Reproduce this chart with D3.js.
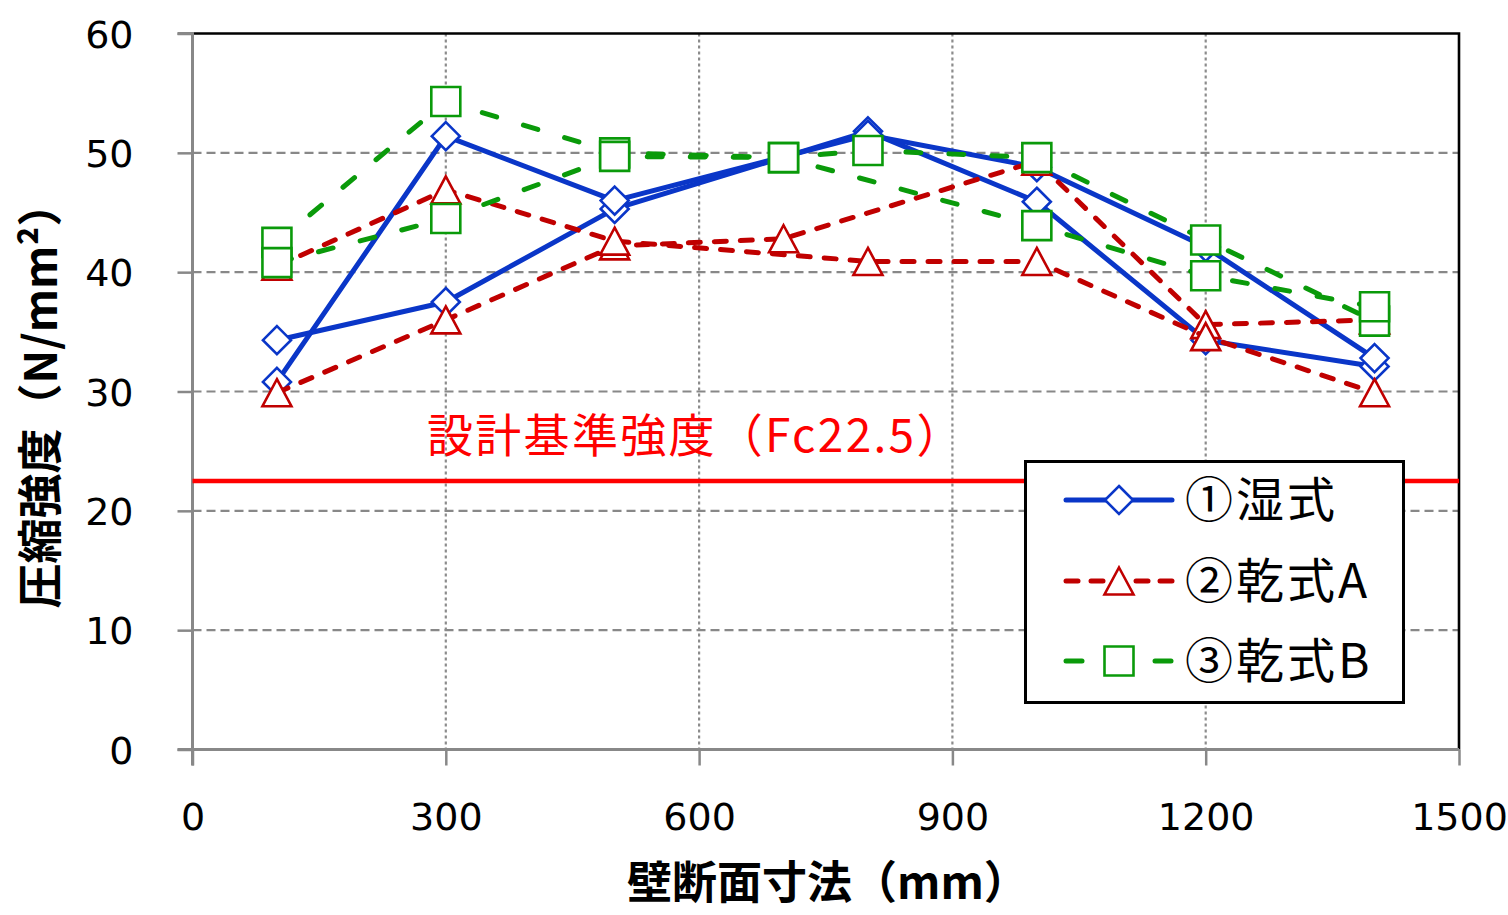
<!DOCTYPE html>
<html>
<head>
<meta charset="utf-8">
<script src="https://cdn.jsdelivr.net/npm/d3@7"></script>
<style>
  html, body { margin: 0; padding: 0; background: #fff; }
  svg { display: block; }
</style>
</head>
<body>
<svg id="chart" width="1508" height="915"></svg>
<script>
// ---------- data ----------
const xTicks = [0, 300, 600, 900, 1200, 1500];
const yTicks = [0, 10, 20, 30, 40, 50, 60];

const wetX1 = [100, 300, 500, 800, 1000, 1200, 1400];
const wetY1 = [34.3, 37.5, 45.3, 51.8, 45.9, 34.3, 32.1];
const wetX2 = [100, 300, 500, 800, 1000, 1200, 1400];
const wetY2 = [30.8, 51.4, 46.0, 51.5, 48.8, 42.1, 32.8];

const dryAX1 = [100, 300, 500, 700, 1000, 1200, 1400];
const dryAY1 = [29.9, 36.0, 42.2, 42.8, 49.3, 35.6, 36.0];
const dryAX2 = [100, 300, 500, 800, 1000, 1200, 1400];
const dryAY2 = [40.5, 46.9, 42.6, 40.9, 40.9, 34.6, 29.9];

const dryBX1 = [100, 300, 500, 700, 800, 1000, 1200, 1400];
const dryBY1 = [42.5, 54.3, 50.0, 49.6, 50.2, 49.6, 42.7, 35.9];
const dryBX2 = [100, 300, 500, 700, 1000, 1200, 1400];
const dryBY2 = [40.8, 44.5, 49.7, 49.6, 43.9, 39.7, 37.1];

const designValue = 22.5;
const designLabel = "設計基準強度（Fc22.5）";
const seriesNames = ["①湿式", "②乾式A", "③乾式B"];
const xTitle = "壁断面寸法（mm）";
const yTitle = "圧縮強度（N/mm²）";

// ---------- setup ----------
const svg = d3.select("#chart");
const L = 192.5, R = 1459, T = 33.5, B = 749.5;
const x = d3.scaleLinear().domain([0, 1500]).range([L, R]);
const y = d3.scaleLinear().domain([0, 60]).range([B, T]);
const CJK = "'Noto Sans CJK JP', 'Noto Sans', sans-serif";
const NUM = "'DejaVu Sans', sans-serif";
const gray = "#888888";

// gridlines horizontal (dashed)
svg.append("g").selectAll("line").data(yTicks.filter(d => d > 0 && d < 60)).join("line")
  .attr("x1", L).attr("x2", R).attr("y1", d => y(d)).attr("y2", d => y(d))
  .attr("stroke", gray).attr("stroke-width", 2.2).attr("stroke-dasharray", "9,5");
// gridlines vertical (dotted)
svg.append("g").selectAll("line").data(xTicks.filter(d => d > 0 && d < 1500)).join("line")
  .attr("x1", d => x(d)).attr("x2", d => x(d)).attr("y1", T).attr("y2", B)
  .attr("stroke", "#8c8c8c").attr("stroke-width", 2.2).attr("stroke-dasharray", "3,3");

// plot border (top & right black)
svg.append("path").attr("d", `M${L},${T}H${R}V${B}`).attr("fill", "none")
  .attr("stroke", "#000").attr("stroke-width", 2.6);

// axes
const yAxis = d3.axisLeft(y).tickValues(yTicks).tickSize(15).tickPadding(44).tickFormat(d3.format("d"));
const gy = svg.append("g").attr("transform", `translate(${L},0)`).call(yAxis);
const xAxis = d3.axisBottom(x).tickValues(xTicks).tickSize(16).tickPadding(38).tickFormat(d3.format("d"));
const gx = svg.append("g").attr("transform", `translate(0,${B})`).call(xAxis);
[gx, gy].forEach(g => {
  g.select(".domain").attr("stroke", gray).attr("stroke-width", 3);
  g.selectAll(".tick line").attr("stroke", gray).attr("stroke-width", 2.5);
  g.selectAll(".tick text").attr("fill", "#000").style("font-family", NUM).style("font-size", "38px");
});
gy.select(".domain").attr("d", `M-15,${T}H0V${B + 16}`);
gx.select(".domain").attr("d", `M${L - 15},0H${R}`);
gy.selectAll(".tick text").attr("dy", "0.36em");
gx.selectAll(".tick text").attr("dy", "0.71em");

// design strength line
svg.append("line").attr("x1", L).attr("x2", R).attr("y1", y(designValue)).attr("y2", y(designValue))
  .attr("stroke", "#ff0000").attr("stroke-width", 4.5);
svg.append("text").attr("x", 427).attr("y", 452).text(designLabel)
  .attr("fill", "#ff0000").style("font-family", CJK).style("font-size", "46px")
  .style("letter-spacing", "2.3px");

// ---------- series ----------
const diamond = "M0,-14L14,0L0,14L-14,0Z";
const triangle = "M0,-13.5L14.5,13.5L-14.5,13.5Z";
const square = "M-14.5,-14.5H14.5V14.5H-14.5Z";

const styles = [
  { color: "#0a36c8", dash: null, marker: diamond },
  { color: "#c00000", dash: "12,14", marker: triangle },
  { color: "#0a9a0a", dash: "15,28", marker: square }
];
const lines = [
  { xs: wetX1, ys: wetY1, s: 0 }, { xs: wetX2, ys: wetY2, s: 0 },
  { xs: dryAX1, ys: dryAY1, s: 1 }, { xs: dryAX2, ys: dryAY2, s: 1 },
  { xs: dryBX1, ys: dryBY1, s: 2 }, { xs: dryBX2, ys: dryBY2, s: 2 }
];
const lineGen = d3.line().x(d => x(d[0])).y(d => y(d[1]));

lines.forEach(ln => {
  const st = styles[ln.s];
  const pts = ln.xs.map((v, i) => [v, ln.ys[i]]);
  svg.append("path").datum(pts).attr("d", lineGen)
    .attr("fill", "none").attr("stroke", st.color).attr("stroke-width", 5)
    .attr("stroke-linecap", "round").attr("stroke-linejoin", "round")
    .attr("stroke-dasharray", st.dash);
  svg.append("g").selectAll("path").data(pts).join("path")
    .attr("d", st.marker)
    .attr("transform", d => `translate(${x(d[0])},${y(d[1])})`)
    .attr("fill", "#fff").attr("stroke", st.color).attr("stroke-width", 2.6);
});

// ---------- legend ----------
const lg = svg.append("g");
lg.append("rect").attr("x", 1025.5).attr("y", 461.5).attr("width", 378).attr("height", 241)
  .attr("fill", "#fff").attr("stroke", "#000").attr("stroke-width", 3);
const rowsY = [500, 581, 661];
seriesNames.forEach((name, i) => {
  const st = styles[i];
  const yy = rowsY[i];
  if (i === 0) {
    lg.append("line").attr("x1", 1066).attr("x2", 1172).attr("y1", yy).attr("y2", yy)
      .attr("stroke", st.color).attr("stroke-width", 5).attr("stroke-linecap", "round");
  } else if (i === 1) {
    [[1066, 1078], [1091, 1103], [1136, 1148], [1160, 1172]].forEach(seg => {
      lg.append("line").attr("x1", seg[0]).attr("x2", seg[1]).attr("y1", yy).attr("y2", yy)
        .attr("stroke", st.color).attr("stroke-width", 5).attr("stroke-linecap", "round");
    });
  } else {
    [[1066, 1082], [1155, 1171]].forEach(seg => {
      lg.append("line").attr("x1", seg[0]).attr("x2", seg[1]).attr("y1", yy).attr("y2", yy)
        .attr("stroke", st.color).attr("stroke-width", 5).attr("stroke-linecap", "round");
    });
  }
  lg.append("path").attr("d", st.marker).attr("transform", `translate(1119,${yy})`)
    .attr("fill", "#fff").attr("stroke", st.color).attr("stroke-width", 2.6);
  lg.append("text").attr("x", 1185).attr("y", yy).attr("dy", "0.36em").text(name)
    .attr("fill", "#000").style("font-family", CJK).style("font-size", "48px")
    .style("letter-spacing", "3px");
});

// ---------- axis titles ----------
svg.append("text").attr("x", 828).attr("y", 899).attr("text-anchor", "middle").text(xTitle)
  .style("font-family", CJK).style("font-size", "45px").style("font-weight", "700");
svg.append("text").attr("transform", "translate(57,395) rotate(-90)").attr("text-anchor", "middle").text(yTitle)
  .style("font-family", CJK).style("font-size", "45px").style("font-weight", "700");
</script>
</body>
</html>
